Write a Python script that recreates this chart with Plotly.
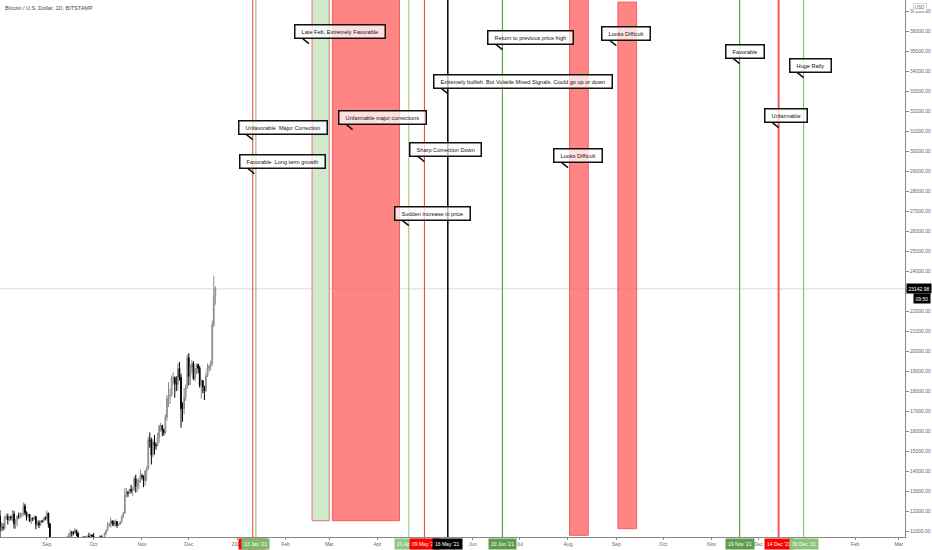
"""Bitcoin / U.S. Dollar daily chart with 2021 timing annotations.

Candles cover Aug-Dec 2020; the vertical lines, zones and callouts mark
the favorable / unfavorable windows drawn for 2021.

Output:
    out.html
"""

import pandas as pd
import plotly.graph_objects as go

FONT = "Liberation Sans, Arial, sans-serif"

# ---- candles: 2020-08-02 .. 2020-12-18 (BITSTAMP, 1D) ----
DATES = pd.date_range("2020-08-02", "2020-12-18", freq="D")

OPEN = [
    # Aug
    11800, 11070, 11230, 11190, 11740, 11760, 11600, 11750, 11680, 11880,
    11400, 11580, 11780, 11770, 11860, 11910, 12290, 11960, 11760, 11870,
    11530, 11680, 11650, 11760, 11350, 11470, 11330, 11540, 11510, 11680,
    # Sep
    11660, 11930, 11390, 10170, 10470, 10170, 10250, 10370, 10130, 10230,
    10340, 10390, 10440, 10330, 10680, 10790, 10950, 10940, 10930, 11080,
    10920, 10420, 10530, 10240, 10740, 10690, 10730, 10780, 10700, 10840,
    # Oct
    10780, 10620, 10570, 10550, 10670, 10790, 10600, 10670, 10920, 11060,
    11300, 11380, 11540, 11430, 11430, 11500, 11320, 11370, 11500, 11750,
    11920, 12820, 12970, 12930, 13120, 13030, 13070, 13650, 13270, 13460,
    13560,
    # Nov
    13800, 13760, 13550, 14030, 14150, 15590, 15580, 14840, 15480, 15330,
    15300, 15700, 16280, 16320, 16070, 15960, 16730, 17660, 17800, 17820,
    18660, 18700, 18420, 18370, 19160, 18720, 17150, 17140, 17720, 18180,
    # Dec
    19700, 18770, 19210, 19420, 18650, 19150, 19360, 19170, 18320, 18550,
    18250, 18030, 18800, 19170, 19270, 19440, 21350, 22800,
]
HIGH = [
    12070, 11480, 11420, 11790, 11900, 11910, 11800, 11800, 12080, 12040,
    11620, 11800, 11950, 11970, 11930, 12470, 12400, 12020, 11900, 11880,
    11690, 11710, 11820, 11770, 11540, 11580, 11560, 11590, 11700, 11780,
    12070, 11950, 11440, 10620, 10570, 10350, 10400, 10430, 10360, 10500,
    10400, 10480, 10580, 10800, 10940, 11100, 11040, 11040, 11180, 11080,
    10990, 10580, 10540, 10790, 10770, 10790, 10800, 10950, 10870, 10860,
    10930, 10650, 10600, 10700, 10800, 10800, 10690, 10960, 11110, 11480,
    11440, 11720, 11560, 11560, 11620, 11540, 11400, 11530, 11820, 12000,
    13200, 13180, 13030, 13150, 13340, 13240, 13770, 13850, 13630, 13680,
    14100,
    13900, 13820, 14070, 14260, 15750, 15960, 15700, 15650, 15840, 15460,
    15950, 16350, 16460, 16330, 16160, 16870, 17830, 18480, 18150, 18800,
    18970, 18760, 18770, 19420, 19490, 18900, 17470, 18200, 18350, 19860,
    19920, 19330, 19580, 19520, 19180, 19420, 19400, 19290, 18640, 18580,
    18290, 18950, 19400, 19340, 19550, 21560, 23800, 23280,
]
LOW = [
    10650, 11000, 11060, 11100, 11600, 11360, 11530, 11560, 11520, 11150,
    11150, 11280, 11640, 11680, 11700, 11800, 11830, 11560, 11680, 11480,
    11380, 11520, 11590, 11120, 11260, 11180, 11290, 11450, 11460, 11570,
    11550, 11200, 10050, 9960, 9880, 10010, 9880, 9850, 10000, 10200,
    10210, 10300, 10200, 10270, 10620, 10680, 10750, 10820, 10900, 10780,
    10300, 10360, 10140, 10200, 10560, 10650, 10620, 10660, 10640, 10680,
    10440, 10380, 10500, 10520, 10590, 10530, 10560, 10540, 10830, 11060,
    11250, 11200, 11290, 11280, 11260, 11200, 11300, 11350, 11420, 11680,
    11900, 12700, 12740, 12880, 12920, 12790, 13050, 12950, 12990, 13130,
    13440,
    13620, 13230, 13300, 13530, 14100, 15200, 14360, 14720, 14850, 15100,
    15280, 15450, 15990, 15770, 15800, 15880, 16560, 17230, 17380, 17760,
    18350, 17700, 18030, 18070, 18560, 16200, 16500, 16880, 17540, 18170,
    18320, 18340, 18920, 18580, 18520, 18870, 18920, 18200, 17650, 17920,
    17580, 18020, 18740, 19000, 19050, 19300, 21230, 22350,
]
CLOSE = [
    11070, 11230, 11190, 11740, 11760, 11600, 11750, 11680, 11880, 11400,
    11580, 11780, 11770, 11860, 11910, 12290, 11960, 11760, 11870, 11530,
    11680, 11650, 11760, 11350, 11470, 11330, 11540, 11510, 11680, 11660,
    11930, 11390, 10170, 10470, 10170, 10250, 10370, 10130, 10230, 10340,
    10390, 10440, 10330, 10680, 10790, 10950, 10940, 10930, 11080, 10920,
    10420, 10530, 10240, 10740, 10690, 10730, 10780, 10700, 10840, 10780,
    10620, 10570, 10550, 10670, 10790, 10600, 10670, 10920, 11060, 11300,
    11380, 11540, 11430, 11430, 11500, 11320, 11370, 11500, 11750, 11920,
    12820, 12970, 12930, 13120, 13030, 13070, 13650, 13270, 13460, 13560,
    13800,
    13760, 13550, 14030, 14150, 15590, 15580, 14840, 15480, 15330, 15300,
    15700, 16280, 16320, 16070, 15960, 16730, 17660, 17800, 17820, 18660,
    18700, 18420, 18370, 19160, 18720, 17150, 17140, 17720, 18180, 19700,
    18770, 19210, 19420, 18650, 19150, 19360, 19170, 18320, 18550, 18250,
    18030, 18800, 19170, 19270, 19440, 21350, 22800, 23142.98,
]
LAST_PRICE = 23142.98
COUNTDOWN = "09:50"

# ---- vertical marker lines with their date tags ----
LINE_DATES = ["2021-01-11", "2021-01-13", "2021-04-21", "2021-05-01",
              "2021-05-16", "2021-06-20", "2021-11-19", "2021-12-14",
              "2021-12-30"]
LINE_TAGS = ["11 Jan '21", "13 Jan '21", "21 Apr '21", "09 May '21",
             "16 May '21", "20 Jun '21", "19 Nov '21", "14 Dec '21",
             "30 Dec '21"]
LINE_COLORS = ["#e83a3a", "#7dbb6c", "#8cc47e", "#e83a3a", "#000000",
               "#5aa546", "#5aa546", "#f05a5a", "#86c477"]
LINE_WIDTHS = [1, 1, 1, 1, 1.5, 1.2, 1.2, 2, 1.2]
TAG_COLORS = ["#ff0000", "#7dbb6c", "#8fc784", "#ff0000", "#000000",
              "#5e9e4a", "#5e9e4a", "#ff0000", "#8bc57c"]

# ---- zones (green = favorable, red = unfavorable) ----
ZONE_START = ["2021-02-18", "2021-03-03", "2021-08-02", "2021-09-02"]
ZONE_END = ["2021-03-01", "2021-04-15", "2021-08-14", "2021-09-14"]
ZONE_LOW = [11550, 11550, 10820, 11150]
ZONE_HIGH = [40000, 40000, 40000, 37480]
ZONE_KIND = ["good", "bad", "bad", "bad"]

# ---- callouts (text, tail date, tail price) ----
CALLOUT_TEXT = [
    "Late Feb, Extremely Favorable",
    "Unfavorable  Major Correction",
    "Favorable  Long term growth",
    "Unfarmable major corrections",
    "Sharp Correction Down",
    "Sudden increase in price",
    "Extremely bullish. But Volatile Mixed Signals. Could go up or down",
    "Return to previous price high",
    "Looks Difficult",
    "Looks Difficult",
    "Favorable",
    "Huge Rally",
    "Unfarmable",
]
CALLOUT_DATES = ["2021-02-16", "2021-01-11", "2021-01-12", "2021-03-16",
                 "2021-05-01", "2021-04-21", "2021-05-16", "2021-06-20",
                 "2021-09-01", "2021-08-01", "2021-11-19", "2021-12-30",
                 "2021-12-14"]
CALLOUT_PRICES = [35400, 30600, 28900, 31100, 29500, 26300, 32900, 35100,
                  35300, 29200, 34400, 33700, 31200]

# ---- axes ----
X_RANGE = ["2020-08-02", "2022-03-05"]
Y_RANGE = [10735, 37585]
MONTH_TICKS = ["2020-09-01", "2020-10-01", "2020-11-01", "2020-12-01",
               "2021-01-01", "2021-02-01", "2021-03-01", "2021-04-01",
               "2021-05-01", "2021-06-01", "2021-07-01", "2021-08-01",
               "2021-09-01", "2021-10-01", "2021-11-01", "2021-12-01",
               "2022-01-01", "2022-02-01", "2022-03-01"]
MONTH_LABELS = ["Sep", "Oct", "Nov", "Dec", "2021", "Feb", "Mar", "Apr",
                "May", "Jun", "Jul", "Aug", "Sep", "Oct", "Nov", "Dec",
                "2022", "Feb", "Mar"]


def build_figure():
    fig = go.Figure()
    fig.add_candlestick(
        x=DATES, open=OPEN, high=HIGH, low=LOW, close=CLOSE,
        increasing=dict(line=dict(color="#8a8a8a", width=1), fillcolor="#ffffff"),
        decreasing=dict(line=dict(color="#000000", width=1), fillcolor="#000000"),
        hoverinfo="skip", showlegend=False,
    )

    # last price line
    fig.add_shape(type="line", xref="paper", x0=0, x1=1, y0=LAST_PRICE,
                  y1=LAST_PRICE, line=dict(color="#cfcfcf", width=0.8),
                  layer="below")

    for x0, x1, lo, hi, kind in zip(ZONE_START, ZONE_END, ZONE_LOW,
                                    ZONE_HIGH, ZONE_KIND):
        if kind == "good":
            fill, edge = "rgba(205,232,200,0.95)", "#e57373"
        else:
            fill, edge = "rgba(255,110,110,0.85)", "#f06060"
        fig.add_shape(type="rect", x0=x0, x1=x1, y0=lo, y1=hi,
                      fillcolor=fill, line=dict(color=edge, width=1))

    for d, c, w in zip(LINE_DATES, LINE_COLORS, LINE_WIDTHS):
        fig.add_shape(type="line", x0=d, x1=d, yref="paper", y0=0, y1=1,
                      line=dict(color=c, width=w))

    # date tags under the axis (later ones overlap earlier ones)
    for d, tag, c in zip(LINE_DATES, LINE_TAGS, TAG_COLORS):
        fig.add_annotation(x=d, yref="paper", y=0, yanchor="top", yshift=-1,
                           text=tag, showarrow=False, bgcolor=c,
                           borderpad=2, font=dict(family=FONT, size=5,
                                                  color="#ffffff"))

    # speech-bubble style callouts
    for txt, d, p in zip(CALLOUT_TEXT, CALLOUT_DATES, CALLOUT_PRICES):
        fig.add_annotation(
            x=d, y=p, text="&nbsp;&nbsp;" + txt + "&nbsp;&nbsp;",
            showarrow=True, arrowhead=0, arrowwidth=1.5, arrowcolor="#111",
            standoff=0, ax=-15, ay=-12, xanchor="left",
            bgcolor="rgba(255,255,255,0.75)", bordercolor="#111",
            borderwidth=1.5, borderpad=3,
            font=dict(family=FONT, size=5.6, color="#111"),
        )

    # right-axis badges
    fig.add_annotation(xref="paper", x=1, xanchor="left", xshift=1,
                       y=LAST_PRICE, text=f"{LAST_PRICE:.2f}",
                       showarrow=False, bgcolor="#000000", borderpad=1.5,
                       font=dict(family=FONT, size=5, color="#ffffff"))
    fig.add_annotation(xref="paper", x=1, xanchor="left", xshift=8,
                       y=LAST_PRICE, yshift=-10, text=COUNTDOWN,
                       showarrow=False, bgcolor="#000000", borderpad=1.5,
                       font=dict(family=FONT, size=5, color="#ffffff"))
    fig.add_annotation(xref="paper", x=1, xanchor="left", xshift=8,
                       yref="paper", y=1, yanchor="top", yshift=-3,
                       text="USD", showarrow=False, bgcolor="#ffffff",
                       bordercolor="#cccccc", borderwidth=0.8, borderpad=1,
                       font=dict(family=FONT, size=4.5, color="#666"))

    # chart title
    fig.add_annotation(xref="paper", yref="paper", x=0, y=1, xanchor="left",
                       yanchor="top", xshift=3, yshift=-3,
                       text="Bitcoin / U.S. Dollar, 1D, BITSTAMP",
                       showarrow=False,
                       font=dict(family=FONT, size=5.5, color="#444"))

    fig.update_layout(
        width=932, height=550,
        margin=dict(l=0, r=27, t=0, b=13),
        paper_bgcolor="#ffffff", plot_bgcolor="#ffffff",
        showlegend=False, hovermode=False,
        font=dict(family=FONT, size=5, color="#555"),
        xaxis=dict(range=X_RANGE, rangeslider=dict(visible=False),
                   tickvals=MONTH_TICKS, ticktext=MONTH_LABELS,
                   showgrid=False, zeroline=False, showline=True,
                   linecolor="#888", linewidth=1, ticks="outside",
                   ticklen=2, tickcolor="#888",
                   tickfont=dict(family=FONT, size=5, color="#666")),
        yaxis=dict(range=Y_RANGE, side="right", dtick=1000,
                   tickformat=".2f", showgrid=False, zeroline=False,
                   showline=True, linecolor="#888", linewidth=1,
                   ticks="outside", ticklen=3, tickcolor="#888",
                   tickfont=dict(family=FONT, size=5, color="#666")),
    )
    return fig


def main():
    fig = build_figure()
    # page body has a default 8px margin; drop it so the figure sits at 0,0
    fig.write_html("out.html", config={"displayModeBar": False},
                   post_script="document.body.style.margin='0';")


if __name__ == "__main__":
    main()
